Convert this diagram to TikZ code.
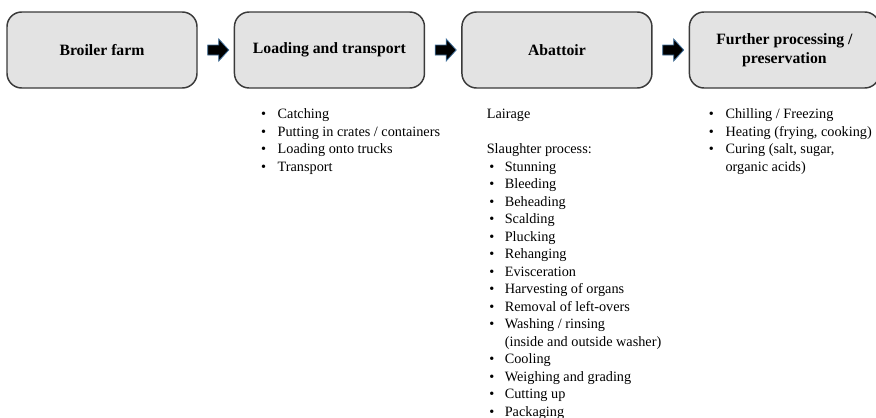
\documentclass[tikz,border=0pt]{standalone}
\usepackage{fontspec}
\setmainfont{Liberation Serif}
\usetikzlibrary{positioning,calc}
\definecolor{boxgray}{HTML}{E3E3E3}
\definecolor{edgegray}{HTML}{3A3A3A}
\definecolor{arrowblue}{HTML}{41719C}
\newcommand{\listfont}{\fontsize{10.7}{13.125}\selectfont}

\begin{document}
\begin{tikzpicture}[x=0.75pt, y=-0.75pt,
		stage/.style={draw=edgegray, line width=1.1pt, fill=boxgray, rounded corners=11pt, minimum width=142.5pt, minimum height=57pt, align=center, font=\fontsize{11.8}{14.25}\selectfont\bfseries},
		blockarrow/.style={draw=arrowblue, line width=0.6pt, fill=black},
		steps/.style={anchor=base west, inner sep=0pt, font=\listfont},
		node distance=27pt]
		\useasboundingbox (0,0) rectangle (876,418);
		\node[stage] (farm) at (102,50) {Broiler farm};
		\node[stage, right=of farm] (load) {Loading and transport};
		\node[stage, right=of load] (abattoir) {Abattoir};
		\node[stage, right=of abattoir] (process) {Further processing /\\ preservation};
		\foreach \a/\b in {farm/load, load/abattoir, abattoir/process} {
			\coordinate (m) at ($(\a.east)!.5!(\b.west)$);
			\draw[blockarrow] ([shift={(-8,-5)}]m) -- ++(11,0) -- ++(0,-6) -- ++(10,11) -- ++(-10,11) -- ++(0,-6) -- ++(-11,0) -- cycle;
		}
		\node[steps] (loadsteps) at ($(load.south west)+(27,30)$) {\begin{tabular}[t]{@{}p{12.5pt}@{}l@{}}
			\textbullet & Catching\\
			\textbullet & Putting in crates / containers\\
			\textbullet & Loading onto trucks\\
			\textbullet & Transport
		\end{tabular}};
		\node[steps] (abattoirsteps) at ($(abattoir.south west)+(28,30)$) {\begin{tabular}[t]{@{}p{11.5pt}@{}l@{}}
			\multicolumn{2}{@{\hspace{-2pt}}l}{Lairage}\\
			& \\
			\multicolumn{2}{@{\hspace{-2pt}}l}{Slaughter process:}\\
			\textbullet & Stunning\\
			\textbullet & Bleeding\\
			\textbullet & Beheading\\
			\textbullet & Scalding\\
			\textbullet & Plucking\\
			\textbullet & Rehanging\\
			\textbullet & Evisceration\\
			\textbullet & Harvesting of organs\\
			\textbullet & Removal of left-overs\\
			\textbullet & Washing / rinsing\\
			& (inside and outside washer)\\
			\textbullet & Cooling\\
			\textbullet & Weighing and grading\\
			\textbullet & Cutting up\\
			\textbullet & Packaging
		\end{tabular}};
		\node[steps] (processsteps) at ($(process.south west)+(20,30)$) {\begin{tabular}[t]{@{}p{12.5pt}@{}l@{}}
			\textbullet & Chilling / Freezing\\
			\textbullet & Heating (frying, cooking)\\
			\textbullet & Curing (salt, sugar,\\
			& organic acids)
		\end{tabular}};
	\end{tikzpicture}
\end{document}
